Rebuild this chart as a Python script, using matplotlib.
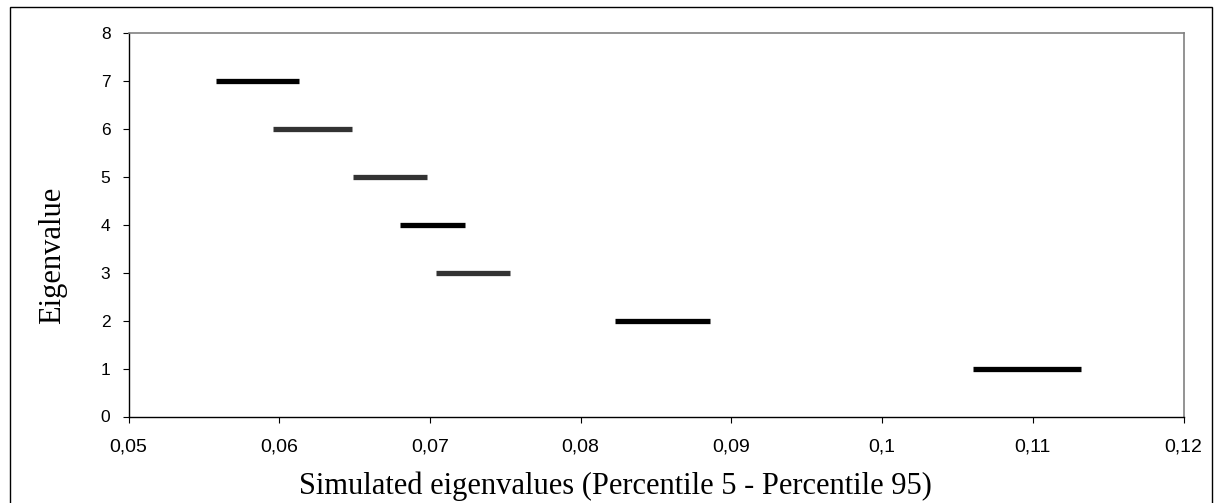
import matplotlib.pyplot as plt
import matplotlib.patches as patches
from matplotlib.ticker import FuncFormatter

# eigenvalue index and the simulated 5th / 95th percentiles
eigenvalues = [7, 6, 5, 4, 3, 2, 1]
p5 = [0.0558, 0.0596, 0.0649, 0.0680, 0.0704, 0.0823, 0.1060]
p95 = [0.0613, 0.0648, 0.0698, 0.0723, 0.0753, 0.0886, 0.1132]
bar_colors = ['#000000', '#333333', '#333333', '#000000', '#333333', '#000000', '#000000']

x_ticks = [0.05, 0.06, 0.07, 0.08, 0.09, 0.10, 0.11, 0.12]
y_ticks = [0, 1, 2, 3, 4, 5, 6, 7, 8]

W, H = 1214, 503
fig = plt.figure(figsize=(W / 100, H / 100), dpi=100)
ax = fig.add_axes([128.5 / W, 1 - 416.5 / H, (1183.5 - 128.5) / W, (416.5 - 33) / H])

# 1) the percentile ranges
for y, a, b, c in zip(eigenvalues, p5, p95, bar_colors):
    ax.hlines(y, a, b, colors=c, linewidth=3.8, capstyle='butt')

# 2) axes
ax.set_xlim(0.05, 0.12)
ax.set_ylim(0, 8)
ax.set_xticks(x_ticks)
ax.set_yticks(y_ticks)
ax.xaxis.set_major_formatter(FuncFormatter(lambda v, p: f"{v:g}".replace('.', ',')))

for s in ['left', 'bottom']:
    ax.spines[s].set_color('black')
    ax.spines[s].set_linewidth(1.0)
for s in ['top', 'right']:
    ax.spines[s].set_color('#808080')
    ax.spines[s].set_linewidth(1.2)

ax.tick_params(axis='both', direction='out', length=4.5, width=0.8, colors='black')
ax.tick_params(axis='x', pad=11, labelsize=14)
ax.tick_params(axis='y', pad=8.5, labelsize=12.5)
for lab in ax.get_xticklabels() + ax.get_yticklabels():
    lab.set_family(['Liberation Sans', 'DejaVu Sans'])

# 3) labels, centred on the chart area
fig.text(615 / W, 1 - 486 / H, 'Simulated eigenvalues (Percentile 5 - Percentile 95)',
         ha='center', va='center', fontsize=22, family=['Liberation Serif', 'DejaVu Serif'])
fig.text(53 / W, 1 - 255 / H, 'Eigenvalue', rotation=90,
         ha='center', va='center', fontsize=22, family=['Liberation Serif', 'DejaVu Serif'])

# 4) chart-area border
fig.patches.append(patches.Rectangle((10 / W, -0.05), (1212 - 10) / W, 1.05 - 7 / H,
                                     transform=fig.transFigure, fill=False,
                                     edgecolor='black', linewidth=1.0))

fig.savefig('out.png', dpi=100)
